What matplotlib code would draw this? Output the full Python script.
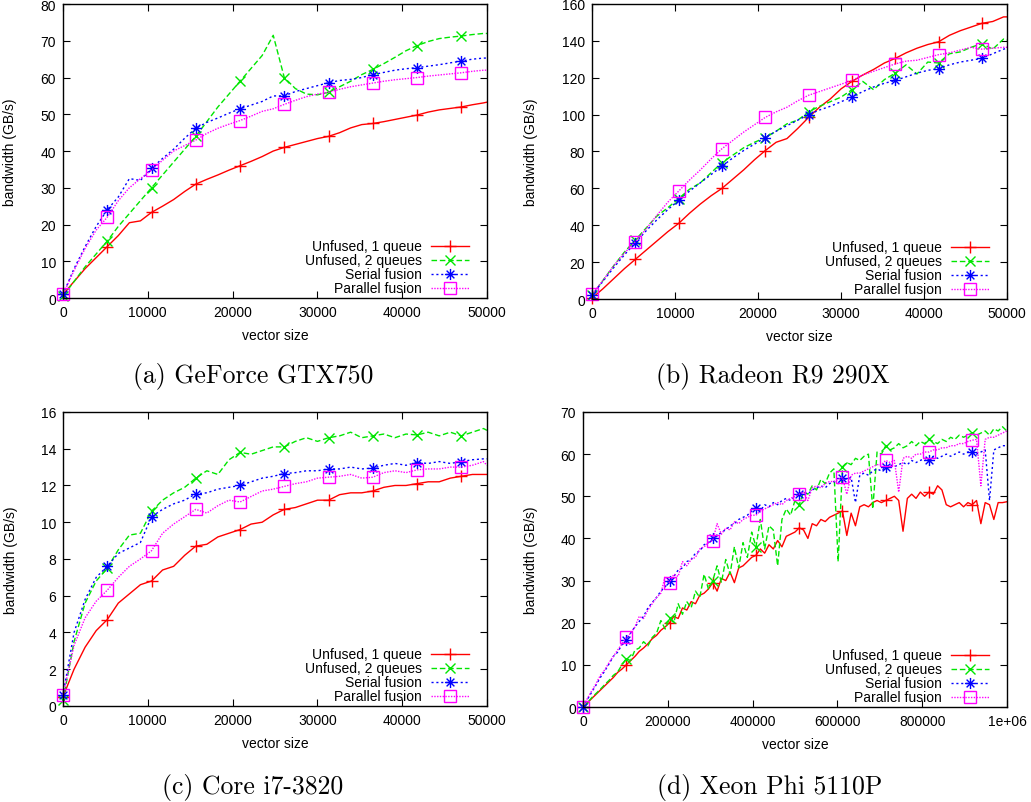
import numpy as np
import matplotlib
matplotlib.use('Agg')
import matplotlib.pyplot as plt
from matplotlib.path import Path

plt.rcParams['font.family'] = ['Liberation Sans', 'DejaVu Sans']
plt.rcParams['font.size'] = 10
plt.rcParams['xtick.direction'] = 'in'
plt.rcParams['ytick.direction'] = 'in'
plt.rcParams['xtick.top'] = True
plt.rcParams['ytick.right'] = True
plt.rcParams['xtick.major.size'] = 5
plt.rcParams['ytick.major.size'] = 5
plt.rcParams['axes.linewidth'] = 1.0

labels = ['Unfused, 1 queue', 'Unfused, 2 queues', 'Serial fusion', 'Parallel fusion']

# vector sizes (GPU / CPU runs sampled every 1305, Xeon Phi every 10200)
size_small = list(np.arange(39) * 1305) + [50000]
size_phi = list(np.arange(99) * 10200)

# (a) GeForce GTX750
gtx_unfused1 = [1.0, 4.5, 8.0, 11.0, 14.0, 17.0, 20.5, 21.0, 23.3, 25.0, 26.8, 29.0, 31.0, 32.3, 33.5, 34.8,
                36.0, 37.2, 38.5, 40.0, 41.0, 41.8, 42.6, 43.4, 44.0, 45.0, 46.3, 47.2, 47.5, 48.0, 48.6, 49.2,
                49.8, 50.6, 51.2, 51.6, 52.0, 52.6, 53.1, 53.3]
gtx_unfused2 = [0.5, 4.5, 8.5, 12.0, 15.5, 19.5, 23.0, 26.5, 30.0, 33.5, 37.0, 40.5, 44.0, 48.0, 52.0, 55.5,
                59.0, 62.5, 66.0, 71.5, 60.0, 57.0, 55.5, 55.3, 56.0, 57.5, 59.0, 60.8, 62.2, 63.8, 65.5, 67.3,
                68.7, 69.8, 70.6, 71.0, 71.3, 71.7, 72.0, 72.0]
gtx_serial = [1.0, 8.0, 14.0, 19.5, 24.0, 27.5, 32.5, 32.0, 35.3, 38.0, 40.5, 43.5, 46.2, 47.8, 49.0, 50.3,
              51.5, 52.5, 53.5, 55.0, 55.0, 56.2, 57.0, 57.8, 58.6, 59.2, 59.5, 60.0, 60.8, 61.4, 62.0, 62.4,
              62.7, 63.1, 63.5, 64.0, 64.5, 65.0, 65.3, 65.3]
gtx_parallel = [1.0, 7.5, 13.5, 18.5, 22.0, 26.5, 30.0, 32.5, 34.8, 37.5, 40.0, 41.5, 43.0, 44.8, 46.2, 47.3,
                48.3, 49.5, 50.8, 51.5, 52.7, 53.8, 54.8, 55.5, 56.0, 56.8, 57.5, 58.0, 58.5, 59.0, 59.4, 59.7,
                60.0, 60.4, 60.7, 61.0, 61.3, 61.7, 62.0, 62.0]

# (b) Radeon R9 290X
r9_unfused1 = [0.5, 5.5, 11.0, 16.5, 21.5, 26.5, 31.5, 36.5, 41.0, 46.5, 51.5, 56.0, 60.0, 65.0, 70.0, 75.5,
               80.5, 85.0, 87.0, 92.5, 98.5, 104.0, 108.5, 114.0, 118.0, 121.5, 124.5, 128.0, 130.5, 133.5,
               136.0, 138.0, 139.5, 143.0, 145.5, 147.5, 149.5, 150.5, 153.0, 153.0]
r9_unfused2 = [2.0, 10.0, 18.0, 25.5, 32.0, 38.5, 45.0, 49.5, 54.5, 59.5, 63.0, 68.5, 74.0, 78.0, 82.0, 85.0,
               87.5, 91.0, 95.0, 97.0, 101.5, 104.5, 107.0, 109.5, 113.5, 118.0, 113.5, 119.0, 122.5, 127.0,
               122.0, 128.5, 128.0, 133.0, 134.0, 136.5, 138.5, 135.5, 141.0, 140.5]
r9_serial = [2.0, 9.5, 17.0, 24.0, 30.5, 37.0, 43.0, 48.5, 53.5, 58.5, 63.0, 67.5, 72.0, 76.5, 80.5, 84.0,
             87.5, 91.0, 94.0, 97.0, 100.0, 102.5, 104.5, 107.0, 109.5, 112.5, 115.0, 117.0, 118.5, 120.5,
             122.5, 124.0, 125.0, 127.0, 128.5, 129.5, 130.5, 133.0, 135.5, 136.0]
r9_parallel = [2.5, 10.0, 18.0, 25.0, 31.0, 38.0, 45.5, 52.5, 58.5, 64.5, 70.0, 76.0, 81.5, 86.0, 90.5, 94.5,
               98.5, 101.5, 104.0, 107.5, 110.5, 112.5, 114.5, 116.5, 118.5, 121.5, 123.5, 125.5, 127.5, 129.0,
               129.5, 131.0, 132.5, 133.5, 135.0, 136.5, 135.5, 136.0, 136.5, 136.5]

# (c) Core i7-3820
i7_unfused1 = [0.5, 2.0, 3.2, 4.1, 4.7, 5.6, 6.1, 6.6, 6.8, 7.4, 7.6, 8.2, 8.7, 8.8, 9.2, 9.4, 9.6, 9.9, 10.0,
               10.4, 10.7, 10.8, 11.0, 11.2, 11.2, 11.5, 11.6, 11.6, 11.7, 11.9, 12.0, 12.0, 12.1, 12.2, 12.2,
               12.4, 12.5, 12.6, 12.6, 12.6]
i7_unfused2 = [0.3, 3.5, 5.6, 6.8, 7.5, 8.5, 9.3, 9.4, 10.6, 11.2, 11.6, 11.9, 12.4, 12.8, 12.6, 13.4, 13.8,
               13.7, 13.9, 14.1, 14.1, 14.4, 14.6, 14.4, 14.6, 14.7, 14.9, 14.6, 14.7, 14.8, 14.6, 14.8, 14.75,
               14.9, 14.7, 14.9, 14.7, 14.9, 15.1, 15.0]
i7_serial = [0.6, 4.0, 5.8, 7.0, 7.6, 8.3, 8.6, 8.9, 10.3, 10.7, 11.0, 11.2, 11.55, 11.6, 11.8, 11.9, 12.0,
             12.2, 12.4, 12.5, 12.65, 12.7, 12.8, 12.8, 12.9, 12.9, 13.0, 12.9, 12.95, 13.1, 13.2, 13.1, 13.25,
             13.2, 13.3, 13.2, 13.3, 13.4, 13.45, 13.45]
i7_parallel = [0.6, 3.3, 4.8, 5.7, 6.3, 7.0, 7.6, 8.0, 8.45, 9.4, 9.9, 10.3, 10.7, 10.5, 10.9, 11.2, 11.1,
               11.4, 11.7, 11.8, 11.95, 12.1, 12.2, 12.4, 12.45, 12.5, 12.6, 12.4, 12.45, 12.7, 12.8, 12.7,
               12.85, 12.9, 12.9, 13.0, 13.0, 13.1, 13.3, 13.1]

# (d) Xeon Phi 5110P
phi_unfused1 = [0.0, 1.0, 2.0, 3.0, 4.0, 5.0, 6.0, 7.0, 8.2, 9.0, 10.0, 11.0, 12.0, 13.2, 14.0, 15.0, 16.2,
                17.0, 18.2, 19.0, 20.0, 21.5, 21.0, 23.5, 23.0, 25.0, 24.5, 26.5, 27.0, 28.0, 29.5, 27.5, 30.5,
                30.0, 32.0, 29.5, 33.0, 33.5, 34.5, 35.5, 36.0, 37.5, 36.5, 38.5, 37.5, 39.5, 38.0, 40.5, 41.0,
                41.5, 42.5, 42.0, 40.0, 43.5, 43.0, 44.5, 44.0, 45.0, 45.5, 46.0, 46.5, 40.7, 46.0, 43.0, 47.5,
                48.0, 47.5, 48.5, 49.0, 48.5, 49.0, 49.5, 50.0, 49.0, 41.7, 49.5, 50.5, 49.5, 51.0, 50.0, 51.0,
                50.5, 52.5, 51.5, 48.0, 47.5, 48.0, 48.5, 47.5, 48.5, 48.0, 49.0, 43.5, 48.5, 48.0, 44.5, 48.5,
                48.5, 48.7]
phi_unfused2 = [0.0, 1.0, 2.2, 3.2, 4.2, 5.3, 6.3, 7.5, 8.3, 10.0, 11.5, 11.0, 13.5, 14.0, 15.5, 14.5, 16.5,
                17.5, 20.5, 18.5, 21.0, 20.0, 24.5, 22.0, 25.0, 23.5, 27.5, 26.0, 31.5, 28.0, 30.0, 33.5, 29.5,
                35.0, 31.5, 38.0, 33.0, 39.0, 35.5, 41.5, 38.0, 44.5, 37.5, 43.0, 42.0, 33.5, 44.5, 47.0, 45.5,
                49.0, 48.0, 51.0, 50.5, 52.5, 51.5, 54.0, 53.0, 55.5, 56.5, 34.5, 57.0, 58.0, 57.5, 59.0, 58.5,
                59.5, 60.0, 47.0, 60.5, 60.0, 62.0, 61.0, 61.5, 62.5, 61.5, 62.0, 63.0, 62.0, 63.0, 62.5, 63.5,
                63.0, 62.5, 63.5, 63.0, 64.0, 63.5, 64.5, 64.0, 64.5, 65.0, 64.5, 65.0, 65.5, 64.5, 66.0, 65.5,
                66.5, 65.5]
phi_serial = [0.0, 1.8, 3.5, 5.2, 7.0, 8.5, 10.2, 12.0, 13.0, 14.8, 16.0, 17.5, 19.0, 20.3, 21.5, 23.5, 24.8,
              26.0, 27.5, 28.5, 30.0, 31.0, 32.5, 33.0, 34.5, 35.0, 36.5, 37.0, 38.5, 39.0, 40.0, 40.5, 41.5,
              42.0, 43.0, 43.5, 44.5, 45.0, 45.5, 46.5, 47.2, 46.5, 48.0, 47.5, 48.5, 48.0, 49.0, 49.5, 49.0,
              50.0, 50.5, 51.0, 50.5, 51.5, 52.0, 52.5, 52.0, 53.0, 53.5, 53.0, 54.3, 54.0, 54.5, 48.5, 55.0,
              55.5, 55.0, 56.0, 56.5, 56.0, 57.0, 57.5, 57.0, 57.5, 58.0, 57.5, 58.5, 58.0, 58.5, 59.0, 58.5,
              59.5, 59.0, 59.5, 60.0, 59.5, 60.0, 60.5, 60.0, 60.5, 60.5, 60.0, 60.5, 61.0, 49.0, 61.0, 61.5,
              62.0, 62.0]
phi_parallel = [0.0, 2.0, 3.8, 5.5, 7.5, 8.8, 10.5, 12.0, 13.5, 15.0, 16.5, 17.5, 19.0, 21.5, 21.0, 23.0, 24.5,
                26.0, 27.0, 31.0, 29.5, 31.5, 31.0, 34.5, 33.5, 35.0, 35.5, 37.5, 38.0, 39.0, 39.5, 43.5, 41.0,
                42.5, 42.0, 44.0, 43.5, 44.5, 45.0, 45.5, 45.5, 46.5, 47.0, 47.5, 48.0, 48.5, 48.0, 49.0, 49.5,
                50.0, 50.5, 51.0, 49.0, 52.0, 52.5, 52.0, 53.0, 53.5, 53.5, 54.0, 54.5, 50.5, 55.0, 55.5, 55.5,
                56.0, 56.5, 57.0, 57.5, 57.5, 58.5, 58.0, 58.5, 51.0, 59.0, 59.5, 59.0, 60.0, 60.0, 60.5, 60.5,
                61.0, 61.0, 61.5, 61.5, 62.0, 62.0, 62.5, 62.5, 63.0, 63.3, 63.5, 52.5, 63.5, 64.0, 64.0, 64.5,
                65.0, 65.5]

xticks_small = [0, 10000, 20000, 30000, 40000, 50000]
xticklabels_small = ['0', '10000', '20000', '30000', '40000', '50000']
xticks_phi = [0, 200000, 400000, 600000, 800000, 1000000]
xticklabels_phi = ['0', '200000', '400000', '600000', '800000', '1e+06']

# gnuplot style "*" point: plus and cross on top of each other
star = Path([(-1, 0), (1, 0), (0, -1), (0, 1), (-0.7, -0.7), (0.7, 0.7), (-0.7, 0.7), (0.7, -0.7)],
            [Path.MOVETO, Path.LINETO] * 4)

line_styles = [dict(color='#ff0000', ls='-'),
               dict(color='#00e600', dashes=(4, 2)),
               dict(color='#0000ff', dashes=(1.5, 2)),
               dict(color='#ff00ff', dashes=(1, 1))]
mark_styles = [dict(marker='+', ms=9),
               dict(marker='x', ms=7),
               dict(marker=star, ms=8, mfc='none'),
               dict(marker='s', ms=8.5, mfc='none')]

W, H = 1031, 803
fig = plt.figure(figsize=(W / 100, H / 100), dpi=100)


def panel(rect, x, series, ylim, ystep, xticks, xticklabels, every, ylab_x):
    ax = fig.add_axes(rect)
    for ys, ls, ms in zip(series, line_styles, mark_styles):
        ax.plot(x, ys, lw=1.0, mew=1.0, markevery=every, clip_on=False, **ls, **ms)
    ax.set_xlim(xticks[0], xticks[-1])
    ax.set_ylim(ylim)
    ax.set_yticks(np.arange(ylim[0], ylim[1] + 1, ystep))
    ax.set_xticks(xticks)
    ax.set_xticklabels(xticklabels)
    ax.tick_params(pad=5)
    ax.set_xlabel('vector size')
    ax.set_ylabel('bandwidth (GB/s)')
    ax.xaxis.set_label_coords(0.5, -0.102)
    ax.yaxis.set_label_coords(ylab_x, 0.5)

    # gnuplot-like key: right-justified text, sample line on its right
    wpx, hpx = rect[2] * W, rect[3] * H
    for k, (lab, ls, ms) in enumerate(zip(labels, line_styles, mark_styles)):
        yy = (52 - 14 * k) / hpx
        ax.text(1 - 65 / wpx, yy, lab, ha='right', va='center', transform=ax.transAxes)
        ax.plot([1 - 56 / wpx, 1 - 18 / wpx], [yy, yy], lw=1.0, transform=ax.transAxes, **ls)
        ax.plot([1 - 37 / wpx], [yy], ls='none', mew=1.0, color=ls['color'],
                transform=ax.transAxes, **ms)
    return ax


panel([0.0611, 0.6276, 0.4112, 0.3661], size_small,
      [gtx_unfused1, gtx_unfused2, gtx_serial, gtx_parallel], (0, 80), 10,
      xticks_small, xticklabels_small, (0, 4), -0.108)
panel([0.5742, 0.6264, 0.4025, 0.3674], size_small,
      [r9_unfused1, r9_unfused2, r9_serial, r9_parallel], (0, 160), 20,
      xticks_small, xticklabels_small, (0, 4), -0.13)
panel([0.0611, 0.1196, 0.4112, 0.3661], size_small,
      [i7_unfused1, i7_unfused2, i7_serial, i7_parallel], (0, 16), 2,
      xticks_small, xticklabels_small, (0, 4), -0.106)
panel([0.5655, 0.1183, 0.4112, 0.3674], size_phi,
      [phi_unfused1, phi_unfused2, phi_serial, phi_parallel], (0, 70), 10,
      xticks_phi, xticklabels_phi, 10, -0.106)

cap = dict(family='cmr10', fontsize=18.5, ha='center', va='center')
fig.text(253 / W, 1 - 377 / H, '(a) GeForce GTX750', **cap)
fig.text(773 / W, 1 - 377 / H, '(b) Radeon R9 290X', **cap)
fig.text(253 / W, 1 - 788 / H, '(c) Core i7-3820', **cap)
fig.text(770 / W, 1 - 788 / H, '(d) Xeon Phi 5110P', **cap)

fig.savefig('out.png', dpi=100)
